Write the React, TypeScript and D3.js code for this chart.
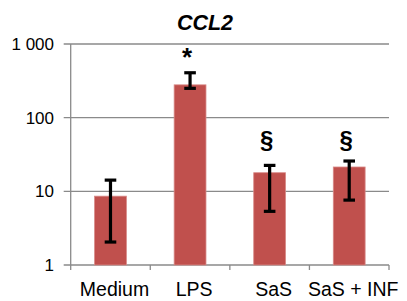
import React from "react";
import * as d3 from "d3";

const categories = ["Medium", "LPS", "SaS", "SaS + INF"];
const means = [8.6, 279, 17.9, 21.4];
const errLow = [2.05, 250, 5.35, 7.6];
const errHigh = [14.2, 407, 22.5, 25.8];
const markers = ["", "*", "§", "§"];
const yTicks = [1, 10, 100, 1000];
const yTickLabels = ["1", "10", "100", "1 000"];
const title = "CCL2";

const W = 407;
const H = 301;
const left = 70.7;
const right = 389;
const top = 44;
const bottom = 265;

export default function App() {
  const y = d3.scaleLog().domain([1, 1000]).range([bottom, top]);
  const slot = d3.scaleBand<string>().domain(categories).range([left, right]).padding(0);
  const bw = slot.bandwidth() * 0.4;
  const font = "'Liberation Sans', Arial, sans-serif";
  const grid = "#8a8a8a";
  const markerBase = (i: number) => {
    const sym = markers[i];
    const ys = categories
      .map((_, j) => j)
      .filter((j) => markers[j] === sym)
      .map((j) => y(errHigh[j]));
    const m = d3.min(ys) as number;
    return sym === "*" ? m - 7 : m - 13;
  };
  return (
    <div style={{ position: "fixed", left: 0, top: 0 }}>
      <svg width={W} height={H} style={{ display: "block", background: "#fff" }}>
        <text x={205} y={30} textAnchor="middle" fontFamily={font} fontWeight="bold" fontStyle="italic" fontSize={21.5}>
          {title}
        </text>
        {yTicks.map((t, i) => (
          <g key={t}>
            <line x1={left - 7} x2={right} y1={y(t)} y2={y(t)} stroke={grid} strokeWidth={1.3} />
            <text x={54} y={y(t)} dy="0.36em" textAnchor="end" fontFamily={font} fontSize={17}>
              {yTickLabels[i]}
            </text>
          </g>
        ))}
        <line x1={left} x2={left} y1={top} y2={bottom + 5} stroke={grid} strokeWidth={1.3} />
        {categories.map((c) => (
          <line key={"t" + c} x1={(slot(c) as number) + slot.bandwidth()} x2={(slot(c) as number) + slot.bandwidth()} y1={bottom} y2={bottom + 5} stroke={grid} strokeWidth={1.3} />
        ))}
        {categories.map((c, i) => {
          const cx = (slot(c) as number) + slot.bandwidth() / 2;
          return (
            <g key={c}>
              <rect x={cx - bw / 2} y={y(means[i])} width={bw} height={bottom - y(means[i])} fill="#c0504d" stroke="#d88a88" strokeWidth={0.8} />
              <line x1={cx} x2={cx} y1={y(errLow[i])} y2={y(errHigh[i])} stroke="#000" strokeWidth={3.2} />
              <line x1={cx - 5.8} x2={cx + 5.8} y1={y(errLow[i])} y2={y(errLow[i])} stroke="#000" strokeWidth={3.2} />
              <line x1={cx - 5.8} x2={cx + 5.8} y1={y(errHigh[i])} y2={y(errHigh[i])} stroke="#000" strokeWidth={3.2} />
              {markers[i] && (
                <text x={cx - 3} y={markerBase(i)} textAnchor="middle" fontFamily={font} fontWeight="bold" fontSize={markers[i] === "*" ? 26 : 24}>
                  {markers[i]}
                </text>
              )}
              <text x={cx + 4} y={296} textAnchor="middle" fontFamily={font} fontSize={19.5}>
                {c}
              </text>
            </g>
          );
        })}
      </svg>
    </div>
  );
}
